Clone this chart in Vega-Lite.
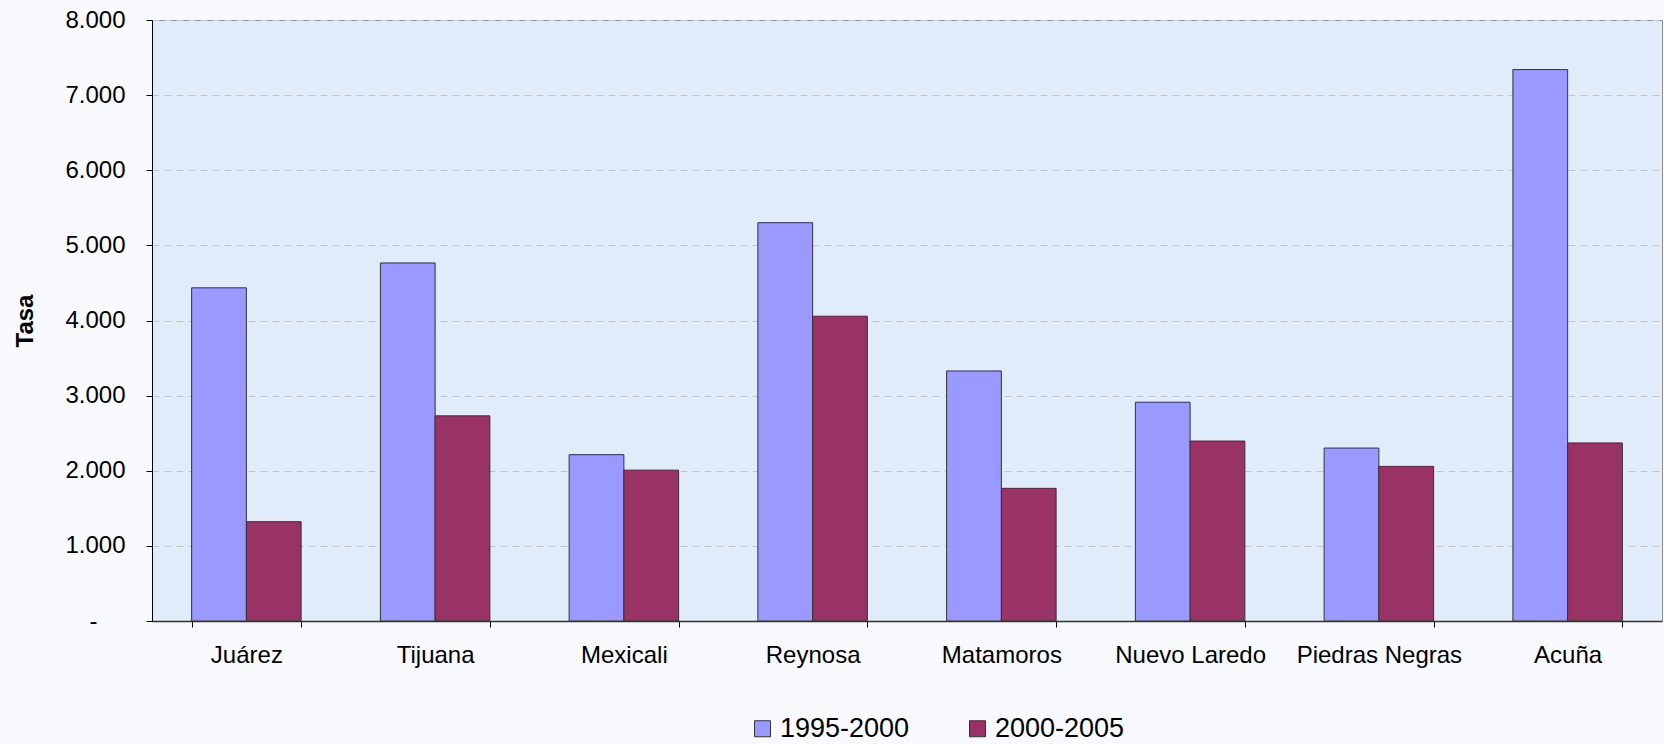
{
  "$schema": "https://vega.github.io/schema/vega-lite/v6.json",
  "width": 1510,
  "height": 601,
  "autosize": {"type": "none"},
  "padding": {"left": 152, "top": 20, "right": 2, "bottom": 123},
  "background": "#f7f9fd",
  "config": {
    "font": "Liberation Sans",
    "view": {"fill": "#e0ecf9", "stroke": "#8e8e8e", "strokeWidth": 1}
  },
  "data": {
    "values": [
      {"ciudad": "Juárez", "periodo": "1995-2000", "tasa": 4435},
      {"ciudad": "Juárez", "periodo": "2000-2005", "tasa": 1322},
      {"ciudad": "Tijuana", "periodo": "1995-2000", "tasa": 4766},
      {"ciudad": "Tijuana", "periodo": "2000-2005", "tasa": 2731},
      {"ciudad": "Mexicali", "periodo": "1995-2000", "tasa": 2214},
      {"ciudad": "Mexicali", "periodo": "2000-2005", "tasa": 2008},
      {"ciudad": "Reynosa", "periodo": "1995-2000", "tasa": 5302},
      {"ciudad": "Reynosa", "periodo": "2000-2005", "tasa": 4057},
      {"ciudad": "Matamoros", "periodo": "1995-2000", "tasa": 3328},
      {"ciudad": "Matamoros", "periodo": "2000-2005", "tasa": 1766},
      {"ciudad": "Nuevo Laredo", "periodo": "1995-2000", "tasa": 2912},
      {"ciudad": "Nuevo Laredo", "periodo": "2000-2005", "tasa": 2395},
      {"ciudad": "Piedras Negras", "periodo": "1995-2000", "tasa": 2302},
      {"ciudad": "Piedras Negras", "periodo": "2000-2005", "tasa": 2058},
      {"ciudad": "Acuña", "periodo": "1995-2000", "tasa": 7340},
      {"ciudad": "Acuña", "periodo": "2000-2005", "tasa": 2370}
    ]
  },
  "mark": {"type": "bar", "stroke": "#333333", "strokeWidth": 1},
  "encoding": {
    "x": {
      "field": "ciudad",
      "type": "nominal",
      "sort": null,
      "scale": {"paddingInner": 0.42, "paddingOuter": 0.21},
      "axis": {
        "title": null,
        "labelAngle": 0,
        "labelFontSize": 24,
        "labelColor": "#000000",
        "labelPadding": 16,
        "tickBand": "extent",
        "tickSize": 6,
        "tickColor": "#000000",
        "domainColor": "#333333",
        "domainWidth": 1.3,
        "grid": false
      }
    },
    "xOffset": {
      "field": "periodo",
      "type": "nominal",
      "scale": {"paddingInner": 0, "paddingOuter": 0}
    },
    "y": {
      "field": "tasa",
      "type": "quantitative",
      "scale": {"domain": [0, 8000], "nice": false},
      "axis": {
        "title": "Tasa",
        "titleFontSize": 24,
        "titleFontWeight": "bold",
        "titleColor": "#000000",
        "titlePadding": 27,
        "values": [0, 1000, 2000, 3000, 4000, 5000, 6000, 7000, 8000],
        "labelExpr": "datum.value == 0 ? '-' : replace(format(datum.value, ',d'), ',', '.')",
        "labelFontSize": 24,
        "labelColor": "#000000",
        "labelPadding": {"condition": {"test": "datum.value == 0", "value": 49}, "value": 21},
        "tickSize": 6,
        "tickColor": "#000000",
        "domainColor": "#000000",
        "domainWidth": 1,
        "grid": true,
        "gridColor": "#c4c4c4",
        "gridDash": [7, 5],
        "gridWidth": 1
      }
    },
    "color": {
      "field": "periodo",
      "type": "nominal",
      "scale": {"domain": ["1995-2000", "2000-2005"], "range": ["#9999ff", "#993366"]},
      "legend": {
        "title": null,
        "orient": "none",
        "direction": "horizontal",
        "legendX": 597,
        "legendY": 695,
        "symbolType": "square",
        "symbolSize": 256,
        "symbolStrokeColor": "#333333",
        "symbolStrokeWidth": 1,
        "symbolOpacity": 1,
        "labelFontSize": 27,
        "labelColor": "#000000",
        "labelOffset": 4,
        "columnPadding": 54
      }
    }
  }
}
